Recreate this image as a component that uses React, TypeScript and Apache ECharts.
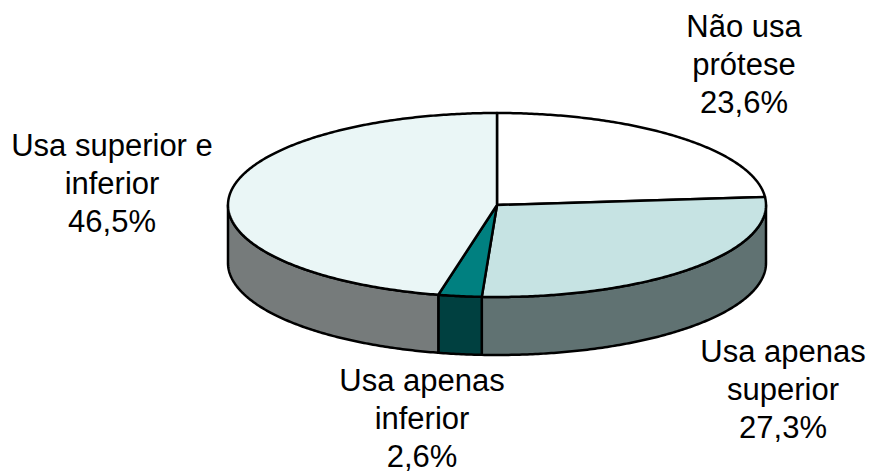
import React, { useEffect, useRef } from "react";
import * as echarts from "echarts";

// ---- data ----
const categories = ["Não usa\nprótese", "Usa apenas\nsuperior", "Usa apenas\ninferior", "Usa superior e\ninferior"];
const values = [23.6, 27.3, 2.6, 46.5];
const topColors = ["#ffffff", "#c6e3e3", "#008080", "#eaf6f6"];
const sideColors = ["#8a8a8a", "#607272", "#004040", "#767b7b"];

// ---- layout ----
const CX = 497;
const CY = 205;
const RX = 269;
const RY = 92;
const DEPTH = 58;
const LABEL_POS: [number, number][] = [
  [744, 7],
  [783, 332],
  [422, 361],
  [112, 126],
];

const fmt = (v: number) => v.toFixed(1).replace(".", ",") + "%";

function arcPoints(a: number, b: number, dy: number) {
  const pts: number[][] = [];
  const n = Math.max(2, Math.ceil(Math.abs(b - a) / 0.01));
  for (let k = 0; k <= n; k++) {
    const t = a + ((b - a) * k) / n;
    pts.push([CX + RX * Math.cos(t), CY + RY * Math.sin(t) + dy]);
  }
  return pts;
}

export default function App() {
  const ref = useRef<HTMLDivElement>(null);
  useEffect(() => {
    if (!ref.current) return;
    const chart = echarts.init(ref.current, null, { renderer: "svg" });
    const total = values.reduce((s, v) => s + v, 0);
    const renderItem = (params: any, api: any) => {
      const i = params.dataIndex;
      const v = api.value(1);
      let before = 0;
      for (let j = 0; j < i; j++) before += values[j];
      const t0 = -Math.PI / 2 + (before / total) * Math.PI * 2;
      const t1 = t0 + (v / total) * Math.PI * 2;
      const children: any[] = [];
      const a = Math.max(t0, 0);
      const b = Math.min(t1, Math.PI);
      if (a < b) {
        const topArc = arcPoints(a, b, 0);
        const botArc = arcPoints(b, a, DEPTH);
        children.push({
          type: "polygon",
          z2: 0,
          shape: { points: topArc.concat(botArc) },
          style: { fill: sideColors[i], stroke: "#000", lineWidth: 2.5, lineJoin: "round" },
        });
      }
      children.push({
        type: "polygon",
        z2: 1,
        shape: { points: [[CX, CY]].concat(arcPoints(t0, t1, 0)) },
        style: { fill: topColors[i], stroke: "#000", lineWidth: 2.5, lineJoin: "round" },
      });
      return { type: "group", children };
    };
    chart.setOption({
      animation: false,
      series: [
        {
          type: "custom",
          coordinateSystem: "none",
          silent: true,
          renderItem,
          data: values.map((v, i) => [i, v]),
        },
      ],
      graphic: categories.map((c, i) => ({
        type: "text",
        x: LABEL_POS[i][0],
        y: LABEL_POS[i][1],
        z: 10,
        style: {
          text: c + "\n" + fmt(values[i]),
          fill: "#000",
          fontSize: 31,
          fontFamily: '"Liberation Sans", Arial, sans-serif',
          align: "center",
          verticalAlign: "top",
          lineHeight: 38,
        },
      })),
    });
    return () => chart.dispose();
  }, []);
  return (
    <div
      ref={ref}
      style={{ position: "fixed", left: 0, top: 0, width: 874, height: 474, background: "#fff" }}
    />
  );
}
